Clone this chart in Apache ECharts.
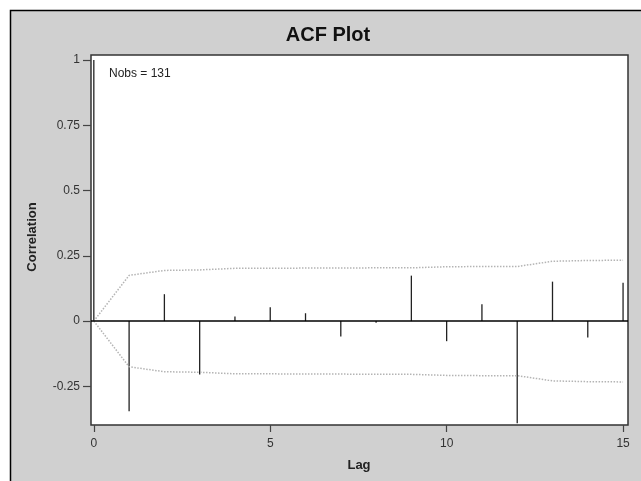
<!DOCTYPE html>
<html>
<head>
<meta charset="utf-8">
<script src="https://cdn.jsdelivr.net/npm/echarts@6/dist/echarts.min.js"></script>
<style>
html,body{margin:0;padding:0;background:#fff;}
#chart{width:641px;height:481px;}
</style>
</head>
<body>
<div id="chart"></div>
<script>
// ---- data ----
const lags = [0, 1, 2, 3, 4, 5, 6, 7, 8, 9, 10, 11, 12, 13, 14, 15];
const acf = [1, -0.345, 0.103, -0.205, 0.018, 0.053, 0.030, -0.059, -0.006, 0.174, -0.077, 0.064, -0.391, 0.151, -0.063, 0.147];
const upperBand = [0, 0.175, 0.194, 0.196, 0.202, 0.202, 0.203, 0.203, 0.204, 0.204, 0.208, 0.209, 0.209, 0.229, 0.232, 0.233];
const lowerBand = [0, -0.175, -0.194, -0.196, -0.202, -0.202, -0.203, -0.203, -0.204, -0.204, -0.208, -0.209, -0.209, -0.229, -0.232, -0.233];
const xTicks = [0, 5, 10, 15];
const yTicks = [-0.25, 0, 0.25, 0.5, 0.75, 1];
const titleText = 'ACF Plot';
const nobsText = 'Nobs = 131';
const xName = 'Lag';
const yName = 'Correlation';

const FONT = '"Liberation Sans", Arial, Helvetica, sans-serif';

const chart = echarts.init(document.getElementById('chart'), null, {renderer: 'canvas'});

const option = {
  animation: false,
  backgroundColor: '#ffffff',
  grid: {
    left: 91, right: 13, top: 55, bottom: 56,
    show: true, backgroundColor: '#ffffff',
    borderColor: '#333333', borderWidth: 1.5
  },
  xAxis: {
    type: 'value',
    min: -0.08, max: 15.14,
    axisLine: {show: false, onZero: false},
    splitLine: {show: false},
    axisTick: {show: true, customValues: xTicks, length: 7, lineStyle: {color: '#444', width: 1.2}},
    axisLabel: {customValues: xTicks, margin: 13, fontSize: 12, color: '#333', fontFamily: FONT}
  },
  yAxis: {
    type: 'value',
    min: -0.398, max: 1.019,
    axisLine: {show: false, onZero: false},
    splitLine: {show: false},
    axisTick: {show: true, customValues: yTicks, length: 8, lineStyle: {color: '#444', width: 1.2}},
    axisLabel: {customValues: yTicks, margin: 11, fontSize: 12, color: '#333', fontFamily: FONT}
  },
  graphic: [
    {type: 'rect', z: -100, silent: true,
     shape: {x: 10.5, y: 10.5, width: 660, height: 500},
     style: {fill: '#d0d0d0', stroke: '#000', lineWidth: 1.5}},
    {type: 'text', x: 328, y: 35, silent: true,
     style: {text: titleText, font: 'bold 20px ' + FONT, fill: '#111', align: 'center', verticalAlign: 'middle'}},
    {type: 'text', x: 109, y: 74, silent: true,
     style: {text: nobsText, font: '12px ' + FONT, fill: '#222', align: 'left', verticalAlign: 'middle'}},
    {type: 'text', x: 359, y: 465, silent: true,
     style: {text: xName, font: 'bold 13px ' + FONT, fill: '#222', align: 'center', verticalAlign: 'middle'}},
    {type: 'text', x: 32, y: 237, rotation: Math.PI / 2, silent: true,
     style: {text: yName, font: 'bold 13px ' + FONT, fill: '#222', align: 'center', verticalAlign: 'middle'}}
  ],
  series: [
    {
      type: 'line', name: 'upper', data: lags.map((l, i) => [l, upperBand[i]]),
      symbol: 'none', silent: true,
      lineStyle: {type: 'dotted', color: '#b4b4b4', width: 1.5}
    },
    {
      type: 'line', name: 'lower', data: lags.map((l, i) => [l, lowerBand[i]]),
      symbol: 'none', silent: true,
      lineStyle: {type: 'dotted', color: '#b4b4b4', width: 1.5}
    },
    {
      type: 'custom', name: 'acf',
      data: lags.map((l, i) => [l, acf[i]]),
      encode: {x: 0, y: 1},
      renderItem: function (params, api) {
        const p0 = api.coord([api.value(0), 0]);
        const p1 = api.coord([api.value(0), api.value(1)]);
        return {
          type: 'line',
          shape: {x1: p0[0], y1: p0[1], x2: p1[0], y2: p1[1]},
          style: {stroke: '#222', lineWidth: 1.3}
        };
      },
      markLine: {
        silent: true, symbol: 'none', animation: false,
        label: {show: false},
        lineStyle: {color: '#000', width: 1.5, type: 'solid'},
        data: [{yAxis: 0}]
      },
      z: 3
    }
  ]
};
chart.setOption(option);
</script>
</body>
</html>
